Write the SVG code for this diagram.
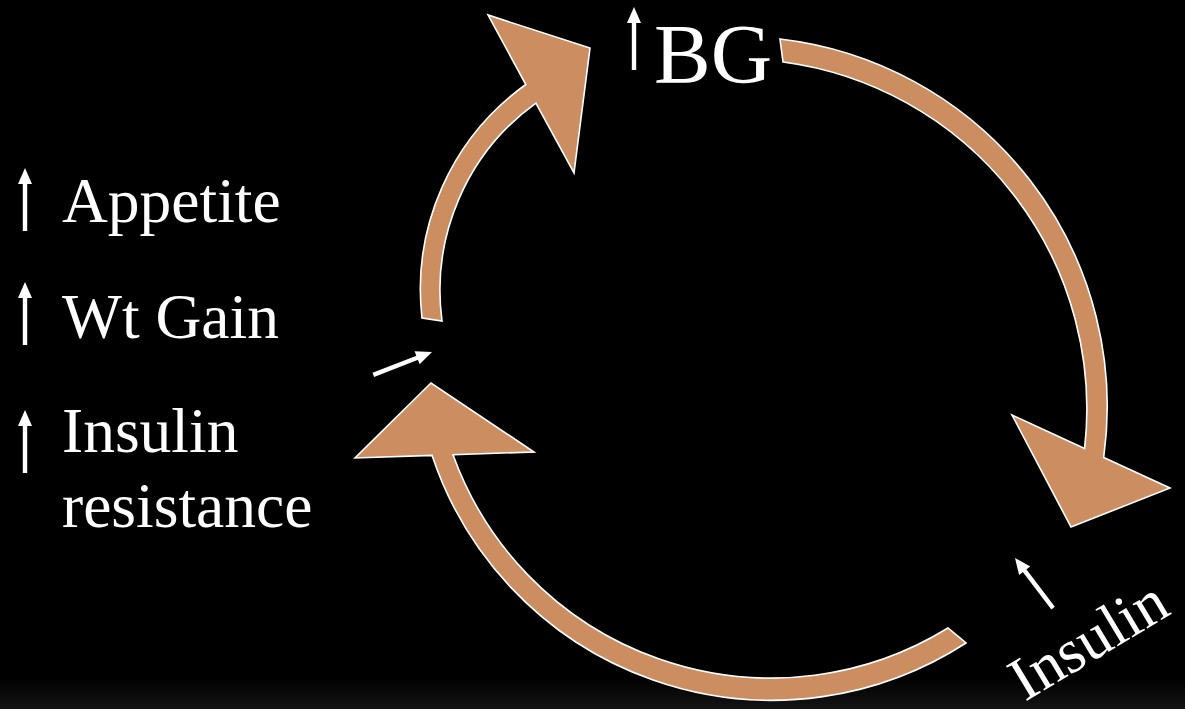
<svg xmlns="http://www.w3.org/2000/svg" width="1185" height="709" viewBox="0 0 1185 709">
<defs>
<style>
.band{fill:#CC8E61;stroke:#ffffff;stroke-width:1.6;stroke-linejoin:miter}
.lbl{font-family:"Liberation Serif","Times New Roman",serif;fill:#ffffff}
.up{fill:#ffffff}
</style>
<g id="uparrow">
<rect x="-2.2" y="13" width="4.4" height="50"/>
<polygon points="0,0 -7,16 7,16"/>
</g>
<linearGradient id="floor" x1="0" y1="0" x2="0" y2="1">
<stop offset="0" stop-color="#000000"/>
<stop offset="1" stop-color="#141414"/>
</linearGradient>
</defs>
<rect width="1185" height="709" fill="#000000"/>
<rect y="678" width="1185" height="31" fill="url(#floor)"/>

<g id="connectors">
<path id="arc-bg-insulin" class="band" d="M780,39 A370,370 0 0 1 1103.7,457.4 L1170,488 L1071,527 L1012,415 L1084.6,448.6 A350,350 0 0 0 783,62 Z"/>
<path id="arc-insulin-effects" class="band" d="M966,643 A358,358 0 0 1 432.1,455.4 L355,458 L431,383 L534,452 L453,454.7 A338,338 0 0 0 948,628 Z"/>
<path id="arc-effects-bg" class="band" d="M422,318 A252,252 0 0 1 525.8,84.5 L488,15 L590,48 L574,173 L535.9,103.1 A231,231 0 0 0 442,321 Z"/>
</g>

<g id="node-bg">
<use href="#uparrow" class="up" transform="translate(634,7)"/>
<text class="lbl" x="654" y="83" font-size="85">BG</text>
</g>

<g id="node-insulin">
<use href="#uparrow" class="up" transform="translate(1015,558) rotate(-37.2)"/>
<text class="lbl" font-size="62" transform="translate(1025,702) rotate(-31)">Insulin</text>
</g>

<g id="node-effects">
<use href="#uparrow" class="up" transform="translate(25,168)"/>
<text class="lbl" x="62" y="222" font-size="63.5">Appetite</text>
<use href="#uparrow" class="up" transform="translate(25,282)"/>
<text class="lbl" x="62" y="338" font-size="63.5">Wt Gain</text>
<use href="#uparrow" class="up" transform="translate(25,410)"/>
<text class="lbl" x="62" y="452" font-size="63.5">Insulin</text>
<text class="lbl" x="62" y="527" font-size="63.5">resistance</text>
</g>

<g id="node-increase">
<use href="#uparrow" class="up" transform="translate(432,352) rotate(68.7)"/>
</g>
</svg>
